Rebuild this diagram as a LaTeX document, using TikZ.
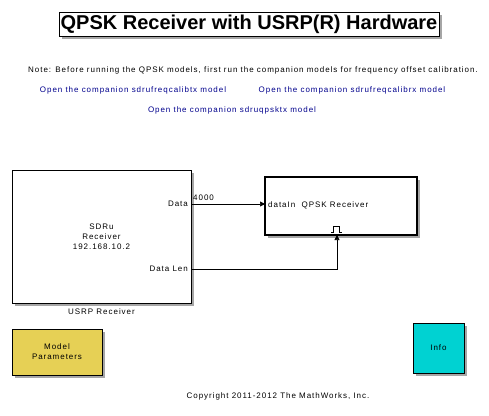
\documentclass[tikz,border=0pt]{standalone}
\usepackage{fontspec}
\setmainfont{Liberation Sans}
\newfontfamily\simfont[LetterSpace=12]{Liberation Sans}
\usepackage{xcolor}
\usetikzlibrary{arrows.meta,shadows}
\definecolor{linkblue}{RGB}{0,0,140}
\definecolor{paramyellow}{RGB}{230,208,85}
\definecolor{infocyan}{RGB}{0,210,210}
\tikzset{
  blk/.style={draw, line width=0.8pt, drop shadow={shadow xshift=3pt, shadow yshift=-3pt, fill=black, opacity=0.35}},
  txt/.style={font=\simfont\fontsize{8}{10}\selectfont, inner sep=0pt},
  link/.style={txt, text=linkblue},
  sig/.style={line width=0.6pt, -{Triangle[length=5pt,width=5pt]}}
}
\begin{document}
\begin{tikzpicture}[x=1pt, y=-1pt]
            \useasboundingbox (0,0) rectangle (489,415);
            % title and notes
            \node [blk, fill=white, minimum width=380pt, minimum height=24pt, inner sep=0pt,
                   font=\fontsize{20}{22}\selectfont\bfseries] (title) at (249,24) {QPSK Receiver with USRP(R) Hardware};
            \node [txt] (note) at (253,70) {Note: Before running the QPSK models, first run the companion models for frequency offset calibration.};
            \node [link] (calibtx) at (133,90) {Open the companion sdrufreqcalibtx model};
            \node [link] (calibrx) at (352,90) {Open the companion sdrufreqcalibrx model};
            \node [link] (qpsktx) at (232,110) {Open the companion sdruqpsktx model};
            % blocks
            \node [blk, fill=white, minimum width=179pt, minimum height=133pt, inner sep=0pt,
                   txt, align=center] (usrp) at (101.5,236.5) {SDRu\\Receiver\\192.168.10.2};
            \node [txt, below=5pt] (usrplabel) at (usrp.south) {USRP Receiver};
            \node [txt, left] (dataport) at (188,204) {Data};
            \node [txt, left] (lenport) at (188,269) {Data Len};
            \node [blk, fill=white, line width=1.6pt, minimum width=152pt, minimum height=58pt, inner sep=0pt] (qpsk) at (341,206) {};
            \node [txt, right] (dataIn) at (268,205) {dataIn\ \ QPSK Receiver};
            \draw [line width=0.6pt] (331,232) -- (333.5,232) -- (333.5,226.5) -- (339.5,226.5) -- (339.5,232) -- (342,232);
            \node [blk, fill=paramyellow, minimum width=90pt, minimum height=46pt, inner sep=0pt,
                   txt, align=center] (params) at (57,352) {Model\\Parameters};
            \node [blk, fill=infocyan, minimum width=51pt, minimum height=50pt, inner sep=0pt, txt] (info) at (438.5,348) {Info};
            \node [txt] (copyright) at (278,396) {Copyright 2011-2012 The MathWorks, Inc.};
            % signals
            \coordinate (dataout) at (191,204);
            \coordinate (lenout) at (191,269);
            \coordinate (datain) at (265,204);
            \coordinate (pulsein) at (337,235);
            \node [txt, anchor=south west] (width) at (193,201) {4000};
            \draw [sig] (dataout) -- (datain);
            \draw [sig] (lenout) -| (pulsein);
        \end{tikzpicture}
\end{document}
